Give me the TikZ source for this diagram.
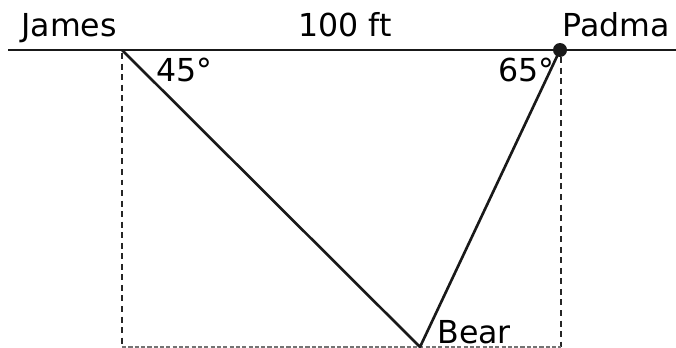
\documentclass[tikz,border=0pt]{standalone}
\usepackage{fontspec}
\setmainfont{DejaVu Sans}
\usetikzlibrary{positioning}

\begin{document}
\begin{tikzpicture}[
  % --- global style ---
  x=0.02cm, y=-0.02cm,
  every node/.style={font=\fontsize{18}{21}\selectfont, inner sep=0pt},
  ground/.style={line width=1.5pt, black!90},
  sight/.style={line width=1.5pt, black!90},
  drop/.style={line width=1.1pt, black!85, dash pattern=on 3.4pt off 2.6pt},
  base/.style={line width=0.9pt, black!55, dash pattern=on 2.4pt off 1.2pt},
]
\useasboundingbox (0,0) rectangle (676,348);

% ====== Points ======
\coordinate (lend)  at (8,50);
\coordinate (rend)  at (676,50);
\coordinate (james) at (122,50);
\coordinate (padma) at (560,50);
\coordinate (bear)  at (420,347);
\coordinate (jfoot) at (122,347);
\coordinate (pfoot) at (561,347);

% ====== Lines ======
\draw[ground] (lend) -- (rend);
\draw[drop] ([yshift=-0.06cm]james) -- (jfoot);
\draw[drop] ([xshift=0.02cm,yshift=-0.14cm]padma) -- (pfoot);
\draw[base] (jfoot) -- (pfoot);
\draw[sight] (james) -- (bear) -- (padma);
\fill[black!90] (padma) circle[radius=0.14cm];

% ====== Labels ======
\node[anchor=base west] (jlab) at (21,37) {James};
\node[anchor=base] (dist) at (345,37) {100 ft};
\node[anchor=base west] (plab) at (562,37) {Padma};
\node[anchor=base west] (jang) at (156,82) {45°};
\node[anchor=base east] (pang) at (555,82) {65°};
\node[anchor=base west] (blab) at (437,343) {Bear};

\end{tikzpicture}
\end{document}
